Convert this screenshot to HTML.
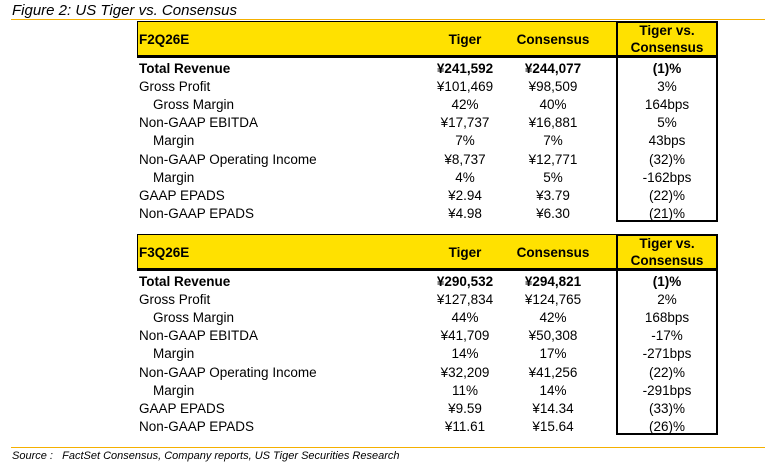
<!DOCTYPE html>
<html><head><meta charset="utf-8">
<style>
body{margin:0;width:765px;height:468px;background:#fff;position:relative;overflow:hidden;font-family:"Liberation Sans","Noto Sans CJK SC",sans-serif;color:#000}
.a{position:absolute;white-space:nowrap}
.title{left:12px;top:2px;font-size:15px;font-style:italic}
.rule{position:absolute;height:1px;background:#f5b000}
.hdr{position:absolute;background:#ffe100;border:1px solid #000;border-bottom:3px solid #000;box-sizing:border-box}
.box{position:absolute;border:2px solid #000;box-sizing:border-box}
.cell{position:absolute;font-size:13.5px;line-height:18px;white-space:nowrap}
.c{text-align:center;transform:translateX(-50%)}
.b{font-weight:bold}
.src{left:12px;top:450px;font-size:11px;font-style:italic}
</style></head><body>
<div class="a title">Figure 2: US Tiger vs. Consensus</div>
<div class="rule" style="left:11px;top:19px;width:754px"></div>
<div id="t"></div>
<div class="rule" style="left:11px;top:447px;width:754px"></div>
<div class="a src">Source :&nbsp;&nbsp; FactSet Consensus, Company reports, US Tiger Securities Research</div>
<script>
const labels=["Total Revenue","Gross Profit","Gross Margin","Non-GAAP EBITDA","Margin","Non-GAAP Operating Income","Margin","GAAP EPADS","Non-GAAP EPADS"];
const indent=[0,0,1,0,1,0,1,0,0];
const periods=["F2Q26E","F3Q26E"];
const tiger1=["¥241,592","¥101,469","42%","¥17,737","7%","¥8,737","4%","¥2.94","¥4.98"];
const cons1=["¥244,077","¥98,509","40%","¥16,881","7%","¥12,771","5%","¥3.79","¥6.30"];
const diff1=["(1)%","3%","164bps","5%","43bps","(32)%","-162bps","(22)%","(21)%"];
const tiger2=["¥290,532","¥127,834","44%","¥41,709","14%","¥32,209","11%","¥9.59","¥11.61"];
const cons2=["¥294,821","¥124,765","42%","¥50,308","17%","¥41,256","14%","¥14.34","¥15.64"];
const diff2=["(1)%","2%","168bps","-17%","-271bps","(22)%","-291bps","(33)%","(26)%"];
const T=document.getElementById('t');
function mk(cls,txt,x,y,name){const d=document.createElement('div');d.className=cls;d.textContent=txt;d.style.left=x+'px';d.style.top=y+'px';


T.appendChild(d);return d;}
function table(top,p,tg,cs,df,k){
 const h=document.createElement('div');h.className='hdr';h.style.cssText=`left:137px;top:${top}px;width:581px;height:37px`;
 
 
 T.appendChild(h);
 const bx=document.createElement('div');bx.className='box';bx.style.cssText=`left:616px;top:${top}px;width:102px;height:201px`;
 
 
 T.appendChild(bx);
 mk('cell b',p,139,top+10,'period-label-'+k);
 mk('cell b c','Tiger',465,top+10,'tiger-header-'+k);
 mk('cell b c','Consensus',553,top+10,'consensus-header-'+k);
 mk('cell b c','Tiger vs.',667,top+1,'variance-header-'+k);
 mk('cell b c','Consensus',667,top+18,'variance-header2-'+k);
 for(let i=0;i<labels.length;i++){
  const y=top+39+i*18.1;const bold=i===0?' b':'';
  mk('cell'+bold,labels[i],139+indent[i]*14,y,'row-label-'+k+'-'+i);
  mk('cell c'+bold,tg[i],465,y,'tiger-value-'+k+'-'+i);
  mk('cell c'+bold,cs[i],553,y,'consensus-value-'+k+'-'+i);
  mk('cell c'+bold,df[i],667,y,'variance-value-'+k+'-'+i);
 }
}
table(21,periods[0],tiger1,cons1,diff1,'q2');
table(234,periods[1],tiger2,cons2,diff2,'q3');
</script>
</body></html>
